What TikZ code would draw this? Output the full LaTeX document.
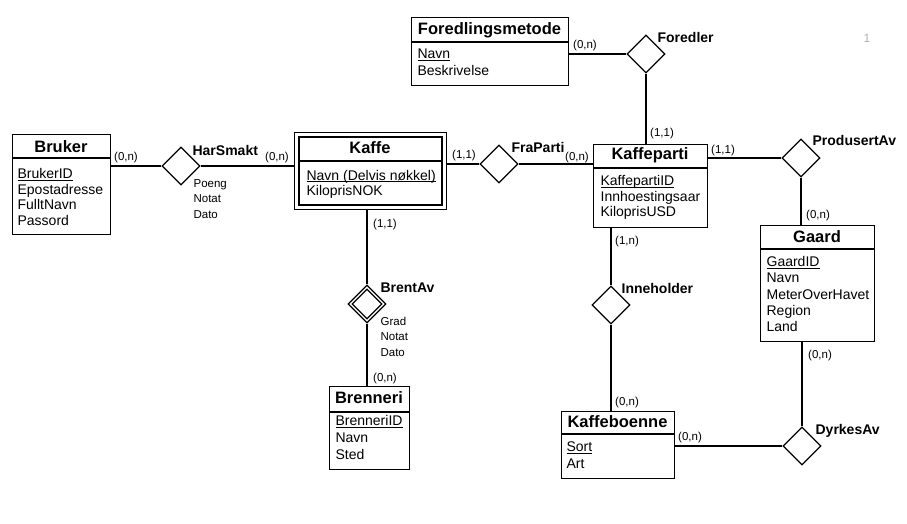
\documentclass[tikz,border=0pt]{standalone}
\usepackage{fontspec}
\setmainfont{Liberation Sans}
\usepackage{tikz}
\usetikzlibrary{shapes.geometric,positioning,calc}
\newcommand{\titlefont}{\fontsize{16.5}{19}\selectfont\bfseries}
\newcommand{\attrfont}{\fontsize{14}{16}\selectfont}
\newcommand{\cardfont}{\fontsize{11.5}{13}\selectfont}
\newcommand{\relfont}{\fontsize{14}{16}\selectfont\bfseries}
\newcommand{\pk}[1]{\underline{\smash{#1}}}
\tikzset{
  entbox/.style={draw,anchor=north west,inner sep=0pt},
  enttitle/.style={font=\titlefont,inner sep=0pt},
  attr/.style={font=\attrfont,anchor=west,inner sep=0pt,text height=10pt,text depth=3pt},
  rel/.style={draw,diamond,inner sep=0pt,minimum width=38pt,minimum height=38pt},
  rellabel/.style={font=\relfont,anchor=west,inner sep=0pt,text height=10pt,text depth=0pt},
  relattr/.style={font=\cardfont,anchor=west,inner sep=0pt,text height=8.5pt,text depth=2.5pt},
  card/.style={font=\cardfont,inner sep=0pt,text height=8.5pt,text depth=2.5pt},
}

\begin{document}
\begin{tikzpicture}[x=1pt,y=-1pt,line width=1.2pt]
\useasboundingbox (0,0) rectangle (907,523);
% ---------------- entities ----------------
\node[entbox,minimum width=98pt,minimum height=100pt] (bruker) at (12,134) {};
\node[enttitle] (brukerT) at (61,147) {Bruker};
\draw (12,158) -- (110,158);
\foreach \a [count=\i from 0] in {\pk{BrukerID},Epostadresse,FulltNavn,Passord}
  \node[attr] (bruker-\i) at (17,175+15.5*\i) {\a};

\node[entbox,minimum width=152pt,minimum height=77pt] (kaffe) at (294,132) {};
\draw (299,137) rectangle (442,205);
\node[enttitle] (kaffeT) at (370,148) {Kaffe};
\draw (299,161) -- (442,161);
\foreach \a [count=\i from 0] in {\pk{Navn (Delvis nøkkel)},KiloprisNOK}
  \node[attr] (kaffe-\i) at (306,176.5+15.5*\i) {\a};

\node[entbox,minimum width=157pt,minimum height=68pt] (foredling) at (411,17) {};
\node[enttitle] (foredlingT) at (489.5,30) {Foredlingsmetode};
\draw (411,42) -- (568,42);
\foreach \a [count=\i from 0] in {\pk{Navn},Beskrivelse}
  \node[attr] (foredling-\i) at (417,55+16.5*\i) {\a};

\node[entbox,minimum width=114pt,minimum height=83pt] (kaffeparti) at (593,144) {};
\node[enttitle] (kaffepartiT) at (650,155) {Kaffeparti};
\draw (593,168) -- (707,168);
\foreach \a [count=\i from 0] in {\pk{KaffepartiID},Innhoestingsaar,KiloprisUSD}
  \node[attr] (kaffeparti-\i) at (600,182+15.5*\i) {\a};

\node[entbox,minimum width=114pt,minimum height=116pt] (gaard) at (760,225) {};
\node[enttitle] (gaardT) at (817,237) {Gaard};
\draw (760,249) -- (874,249);
\foreach \a [count=\i from 0] in {\pk{GaardID},Navn,MeterOverHavet,Region,Land}
  \node[attr] (gaard-\i) at (766,263+16.25*\i) {\a};

\node[entbox,minimum width=113pt,minimum height=67pt] (kaffeboenne) at (561,411) {};
\node[enttitle] (kaffeboenneT) at (617.5,422) {Kaffeboenne};
\draw (561,434) -- (674,434);
\foreach \a [count=\i from 0] in {\pk{Sort},Art}
  \node[attr] (kaffeboenne-\i) at (566,448+16.5*\i) {\a};

\node[entbox,minimum width=80pt,minimum height=83pt] (brenneri) at (329,386) {};
\node[enttitle] (brenneriT) at (369,398) {Brenneri};
\draw (329,412) -- (409,412);
\foreach \a [count=\i from 0] in {\pk{BrenneriID},Navn,Sted}
  \node[attr] (brenneri-\i) at (335,422+17*\i) {\a};

% ---------------- relationships ----------------
\node[rel] (harsmakt) at (181,166) {};
\node[rellabel] (harsmaktL) at (192,150) {HarSmakt};
\foreach \a [count=\i from 0] in {Poeng,Notat,Dato}
  \node[relattr] (harsmakt-\i) at (193,184+15.5*\i) {\a};

\node[rel] (fraparti) at (499,164) {};
\node[rellabel] (frapartiL) at (511,147) {FraParti};

\node[rel] (foredler) at (646,54) {};
\node[rellabel] (foredlerL) at (657,37) {Foredler};

\node[rel] (produsertav) at (801,158) {};
\node[rellabel] (produsertavL) at (812,140) {ProdusertAv};

\node[rel] (inneholder) at (611,305) {};
\node[rellabel] (inneholderL) at (621,288) {Inneholder};

\node[rel] (dyrkesav) at (802,446) {};
\node[rellabel] (dyrkesavL) at (815,429) {DyrkesAv};

\node[rel] (brentav) at (367,304) {};
\node[rel,minimum width=30pt,minimum height=30pt] (brentavI) at (brentav) {};
\node[rellabel] (brentavL) at (380,287) {BrentAv};
\foreach \a [count=\i from 0] in {Grad,Notat,Dato}
  \node[relattr] (brentav-\i) at (380,322+15.5*\i) {\a};

% ---------------- connectors ----------------
\draw (harsmakt.west) -- (harsmakt.west -| bruker.east);
\draw (harsmakt.east) -- (harsmakt.east -| kaffe.west);
\draw (fraparti.west) -- (fraparti.west -| kaffe.east);
\draw (fraparti.east) -- (fraparti.east -| kaffeparti.west);
\draw (foredler.west) -- (foredler.west -| foredling.east);
\draw (foredler.south) -- (foredler.south |- kaffeparti.north);
\draw (produsertav.west) -- (produsertav.west -| kaffeparti.east);
\draw (produsertav.south) -- (produsertav.south |- gaard.north);
\draw (dyrkesav.north) -- (dyrkesav.north |- gaard.south);
\draw (dyrkesav.west) -- (dyrkesav.west -| kaffeboenne.east);
\draw (inneholder.north) -- (inneholder.north |- kaffeparti.south);
\draw (inneholder.south) -- (inneholder.south |- kaffeboenne.north);
\draw (brentav.north) -- (brentav.north |- kaffe.south);
\draw (brentav.south) -- (brentav.south |- brenneri.north);

% ---------------- cardinalities ----------------
\node[card] (c1) at (126,157) {(0,n)};
\node[card] (c2) at (277,157) {(0,n)};
\node[card] (c3) at (464,155) {(1,1)};
\node[card] (c4) at (577,157) {(0,n)};
\node[card] (c5) at (585,45) {(0,n)};
\node[card] (c6) at (662,133) {(1,1)};
\node[card] (c7) at (723,150) {(1,1)};
\node[card] (c8) at (818,215) {(0,n)};
\node[card] (c9) at (820,355) {(0,n)};
\node[card] (c10) at (690,437) {(0,n)};
\node[card] (c11) at (627,241) {(1,n)};
\node[card] (c12) at (627,402) {(0,n)};
\node[card] (c13) at (385,224) {(1,1)};
\node[card] (c14) at (385,378) {(0,n)};

\node[font=\fontsize{12}{14}\selectfont,text=black!30] (pagenum) at (867,38) {1};
\end{tikzpicture}
\end{document}
